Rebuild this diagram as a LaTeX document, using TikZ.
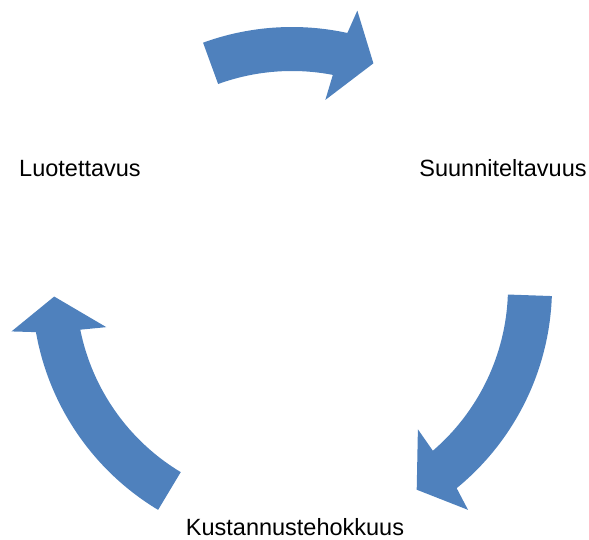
\documentclass[tikz,border=0pt]{standalone}
\usepackage{fontspec}
\setmainfont{Liberation Sans}
\usepackage{pgf,tikz}
\usepackage{color}
\definecolor{cycleblue}{RGB}{79,129,189}

\begin{document}
\begin{tikzpicture}[line cap=round,line join=round,x=0.5pt,y=0.5pt,
    stage/.style={font=\fontsize{11.75}{14}\selectfont,anchor=base,inner sep=0pt}]
      \useasboundingbox (0,0) rectangle (589,540);
      \coordinate (c) at (292,253);
      \foreach \t/\n in {110/78.4,-2/-50,239/190.7}
      \fill[color=cycleblue] ([shift={(\t:260)}]c) arc[start angle=\t,end angle={\n-0.7},radius=260]
        -- ([shift={({\n-1.7}:284)}]c) -- ([shift={({\n-8.4}:238)}]c) -- ([shift={({\n+1.5}:190)}]c)
        -- ([shift={({\n+0.7}:216)}]c) arc[start angle={\n+0.7},end angle=\t,radius=216] -- cycle;
      \node[stage] (luo) at (80,363) {Luotettavus};
      \node[stage] (suu) at (503,363) {Suunniteltavuus};
      \node[stage] (kus) at (295,4) {Kustannustehokkuus};
    \end{tikzpicture}
\end{document}
